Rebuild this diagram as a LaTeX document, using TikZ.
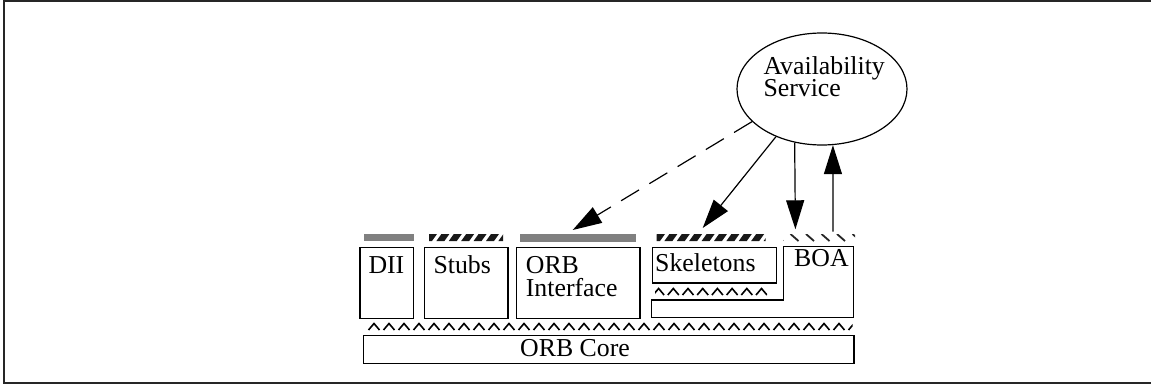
\documentclass[tikz,border=0pt]{standalone}
\usepackage{fontspec}
\setmainfont{Liberation Serif}
\usetikzlibrary{arrows.meta,shapes.geometric}
\begin{document}
\begin{tikzpicture}[x=1pt,y=-1pt,
  lbl/.style={font=\fontsize{25.8}{23}\selectfont, inner sep=0pt, anchor=base west},
  box/.style={draw, line width=1.2pt, inner sep=0pt, anchor=north west},
  greybar/.style={fill=black!50},
  hatch/.style={fill=black!90},
  arr/.style={line width=1.2pt, -{Triangle[length=29pt,width=18pt]}},
  caret/.style={line width=1.6pt, line join=miter},
]
\useasboundingbox (0,0) rectangle (1151,385);

% outer frame (right side lies beyond the page)
\draw[line width=2pt, black!85] (1160,0.9) -- (3.9,0.9) -- (3.9,383.4) -- (1160,383.4);

% ---- boxes ----
\node[box, minimum width=53.4pt, minimum height=71pt] (dii)   at (359.3,246.7) {};
\node[box, minimum width=83.3pt, minimum height=71pt] (stubs) at (424,246.7) {};
\node[box, minimum width=123.6pt, minimum height=71pt] (orbi) at (515.7,246.7) {};
\node[box, minimum width=124pt, minimum height=35.6pt] (skel) at (651.7,246.7) {};
\node[box, minimum width=490.6pt, minimum height=27.7pt] (core) at (362.7,335) {};

% BOA outline wraps around the skeletons
\coordinate (boaA) at (651.7,300);
\coordinate (boaB) at (783.3,300);
\coordinate (boaC) at (783.3,246.7);
\coordinate (boaD) at (853.7,246.7);
\coordinate (boaE) at (853.7,317.7);
\coordinate (boaF) at (651.7,317.7);
\draw[line width=1.2pt] (boaA) -- (boaB) -- (boaC) -- (boaD) -- (boaE) -- (boaF) -- cycle;

% ---- labels ----
\node[lbl] (tdii)  at (368.3,273.3) {DII};
\node[lbl] (tstub) at (433.3,273.3) {Stubs};
\node[lbl] (torb1) at (525.7,273.3) {ORB};
\node[lbl] (torb2) at (525.7,296.7) {Interface};
\node[lbl] (tskel) at (655,271) {Skeletons};
\node[lbl] (tboa)  at (794,266.7) {BOA};
\node[lbl] (tcore) at (520,356.5) {ORB Core};

% ---- interface bars ----
\fill[greybar] (364,234) rectangle (414,241);
\fill[greybar] (520,234) rectangle (636,241.5);

\begin{scope}
  \clip (429,234) rectangle (503,241);
  \foreach \x in {424,436.4,...,512}
    \fill[hatch] (\x,241) -- (\x+8,241) -- (\x+13,234) -- (\x+5,234) -- cycle;
\end{scope}
\begin{scope}
  \clip (656.7,234) rectangle (765.7,241);
  \foreach \x in {652,664.4,...,772}
    \fill[hatch] (\x,241) -- (\x+8,241) -- (\x+13,234) -- (\x+5,234) -- cycle;
\end{scope}
\begin{scope}
  \clip (783,234) rectangle (855,241);
  \foreach \x in {775,790.5,...,860}
    \draw[line width=1.8pt, black!85] (\x,234) -- (\x+8,241);
\end{scope}

% ---- adapter zig-zags ----
\begin{scope}
  \clip (655,286) rectangle (767,296);
  \foreach \p in {658.6,673.3,...,770}
    \draw[caret] (\p-5.5,295) -- (\p,288.5) -- (\p+5.5,295);
\end{scope}
\begin{scope}
  \clip (366,321) rectangle (852.5,331);
  \foreach \p in {359,374,...,860}
    \draw[caret] (\p-5.5,330) -- (\p,323.5) -- (\p+5.5,330);
\end{scope}

% ---- availability service ----
\node[draw, ellipse, line width=1.2pt, inner sep=0pt,
      minimum width=170pt, minimum height=112pt] (avail) at (822,89) {};
\node[lbl] (tav1) at (763.3,75) {Availability};
\node[lbl] (tav2) at (763.3,96.7) {Service};

\coordinate (tipI) at (572.7,230);
\coordinate (tipS) at (702.7,228);
\coordinate (tipB) at (795.4,229.3);
\coordinate (upfoot) at (833,231.7);

\draw[arr, dash pattern=on 21pt off 12pt] (avail.205.5) -- (tipI);
\draw[arr] (avail.226) -- (tipS);
\draw[arr] (avail.243.4) -- (tipB);
\draw[arr] (upfoot) -- (avail.281.2);
\end{tikzpicture}
\end{document}
